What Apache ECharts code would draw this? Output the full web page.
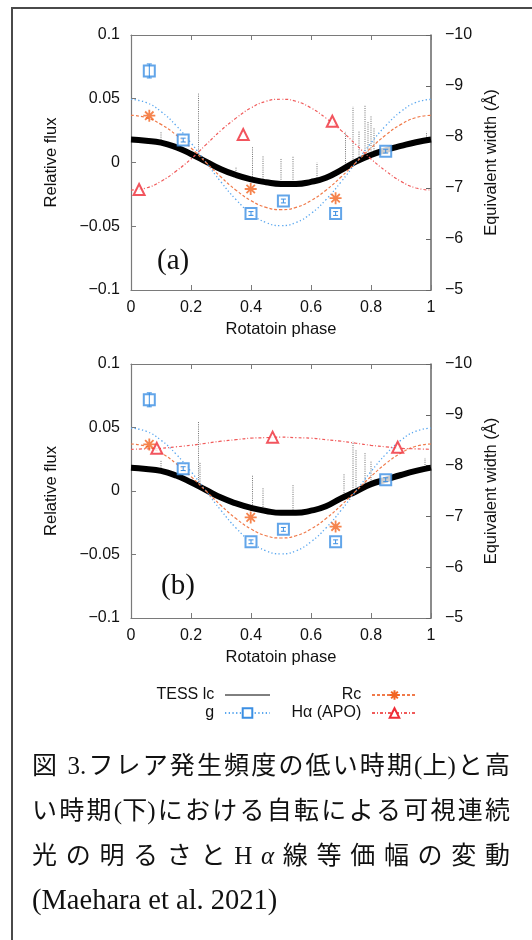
<!DOCTYPE html>
<html>
<head>
<meta charset="utf-8">
<script src="https://cdn.jsdelivr.net/npm/echarts@6/dist/echarts.min.js"></script>
<style>
  html, body { margin: 0; padding: 0; background: #fff; }
  #chart { width: 532px; height: 940px; }
</style>
</head>
<body>
<div id="chart"></div>
<script>
// Rotation phase grid used by the light curves and the sinusoidal fits
const fitPhase = [0, 0.05, 0.1, 0.15, 0.2, 0.25, 0.3, 0.35, 0.4, 0.45, 0.5,
                  0.55, 0.6, 0.65, 0.7, 0.75, 0.8, 0.85, 0.9, 0.95, 1];

// TESS light curve (relative flux), low-activity (a) and high-activity (b) epochs
const tessA = [0.0180, 0.0171, 0.0156, 0.0120, 0.0067, 0.0007, -0.0053, -0.0098, -0.0132, -0.0155, -0.0168,
               -0.0168, -0.0152, -0.0119, -0.0059, 0.0007, 0.0059, 0.0098, 0.0130, 0.0159, 0.0180];
const tessB = [0.0184, 0.0174, 0.0158, 0.0122, 0.0069, 0.0008, -0.0052, -0.0098, -0.0133, -0.0158, -0.0172,
               -0.0172, -0.0155, -0.0120, -0.0058, -0.0004, 0.0054, 0.0090, 0.0126, 0.0158, 0.0184];

// Flare spikes on top of the light curve: [phase, base flux, peak flux]
const flaresA = [[0.100, 0.016, 0.024], [0.225, 0.005, 0.054], [0.350, -0.010, -0.004], [0.405, -0.013, 0.012],
                 [0.440, -0.015, 0.005], [0.500, -0.017, 0.003], [0.540, -0.017, 0.005], [0.620, -0.014, 0.000],
                 [0.715, -0.004, 0.024], [0.740, -0.001, 0.044], [0.760, 0.001, 0.025], [0.780, 0.004, 0.045],
                 [0.790, 0.005, 0.032], [0.800, 0.006, 0.037], [0.810, 0.007, 0.027], [0.985, 0.017, 0.024]];
const flaresB = [[0.100, 0.016, 0.024], [0.225, 0.005, 0.055], [0.230, 0.004, 0.023], [0.405, -0.013, 0.012],
                 [0.440, -0.016, 0.003], [0.540, -0.017, 0.005], [0.710, -0.005, 0.014], [0.740, -0.001, 0.039],
                 [0.750, 0.000, 0.032], [0.780, 0.003, 0.030], [0.800, 0.005, 0.024], [0.980, 0.017, 0.026]];

// Sinusoidal fits
const gFit  = [0.0495, 0.0471, 0.0400, 0.0291, 0.0153, 0.0000, -0.0153, -0.0291, -0.0400, -0.0471, -0.0495,
               -0.0471, -0.0400, -0.0291, -0.0153, 0.0000, 0.0153, 0.0291, 0.0400, 0.0471, 0.0495];
const rcFit = [0.0370, 0.0352, 0.0299, 0.0217, 0.0114, 0.0000, -0.0114, -0.0217, -0.0299, -0.0352, -0.0370,
               -0.0352, -0.0299, -0.0217, -0.0114, 0.0000, 0.0114, 0.0217, 0.0299, 0.0352, 0.0370];
const haFitA = [-6.96, -7.00, -7.13, -7.33, -7.57, -7.85, -8.13, -8.37, -8.57, -8.70, -8.74,
                -8.70, -8.57, -8.37, -8.13, -7.85, -7.57, -7.33, -7.13, -7.00, -6.96];
const haFitB = [-8.32, -8.33, -8.34, -8.37, -8.40, -8.44, -8.48, -8.51, -8.54, -8.55, -8.56,
                -8.55, -8.54, -8.51, -8.48, -8.44, -8.40, -8.37, -8.34, -8.33, -8.32];

// Multicolour photometry (same in both panels)
const gPhase = [0.061, 0.174, 0.400, 0.508, 0.682, 0.849];
const gVal   = [0.0718, 0.0176, -0.0400, -0.0302, -0.0400, 0.0089];
const gErr   = [0.0055, 0.0015, 0.0015, 0.0015, 0.0015, 0.0015];
const rcPhase = [0.061, 0.399, 0.682];
const rcVal   = [0.0367, -0.0208, -0.0280];

// H-alpha equivalent width (APO spectra)
const haPhaseA = [0.027, 0.374, 0.671];
const haValA   = [-6.97, -8.05, -8.31];
const haPhaseB = [0.086, 0.472, 0.889];
const haValB   = [-8.34, -8.56, -8.36];

// Axis ticks
const xTicks = [0, 0.2, 0.4, 0.6, 0.8, 1];
const fluxTicks = [-0.1, -0.05, 0, 0.05, 0.1];
const ewTicks = [-10, -9, -8, -7, -6, -5];

const captionLines = [
  ['図', ' ', '3.', 'フ', 'レ', 'ア', '発', '生', '頻', '度', 'の', '低', 'い', '時', '期', '(上)', 'と', '高'],
  ['い', '時', '期', '(下)', 'に', 'お', 'け', 'る', '自', '転', 'に', 'よ', 'る', '可', '視', '連', '続'],
  ['光', 'の', '明', 'る', 'さ', 'と', 'H', 'α', '線', '等', '価', '幅', 'の', '変', '動']
];
const captionLast = '(Maehara et al. 2021)';

const C_G = '#3b8fe3', C_G_FIT = '#5aa7ef';
const C_RC = '#f26522', C_RC_FIT = '#f07a4a';
const C_HA = '#ef2b36', C_HA_FIT = '#f05a5a';
const AXIS_C = '#7a7a7a';
const FONT = '"Liberation Sans", Arial, sans-serif';
const ASTERISK = 'path://M0,10L20,10M10,0L10,20M3,3L17,17M17,3L3,17';

const zip = (xs, ys) => xs.map((x, i) => [x, ys[i]]);
const minus = s => String(s).replace('-', '\u2212');

function flareData(list) {
  const out = [];
  list.forEach(f => { out.push([f[0], f[1]], [f[0], f[2]], [f[0], '-']); });
  return out;
}

function errBars(xAxisIndex, yAxisIndex) {
  return {
    type: 'custom', xAxisIndex, yAxisIndex, z: 6, silent: true,
    data: gPhase.map((p, i) => [p, gVal[i], gErr[i]]),
    renderItem(params, api) {
      const x = api.value(0), y = api.value(1), e = api.value(2);
      const a = api.coord([x, y - e]), b = api.coord([x, y + e]);
      const w = 2.5, st = { stroke: C_G, lineWidth: 1 };
      return { type: 'group', children: [
        { type: 'line', shape: { x1: a[0], y1: a[1], x2: b[0], y2: b[1] }, style: st },
        { type: 'line', shape: { x1: a[0] - w, y1: a[1], x2: a[0] + w, y2: a[1] }, style: st },
        { type: 'line', shape: { x1: b[0] - w, y1: b[1], x2: b[0] + w, y2: b[1] }, style: st }
      ] };
    }
  };
}

function panelSeries(xi, yl, yr, tess, flares, haFit, haPhase, haVal) {
  return [
    { name: 'TESS lc', type: 'line', xAxisIndex: xi, yAxisIndex: yl, data: zip(fitPhase, tess),
      smooth: true, symbol: 'none', lineStyle: { color: '#000', width: 6 }, itemStyle: { color: '#000' }, z: 3 },
    { name: 'flares', type: 'line', xAxisIndex: xi, yAxisIndex: yl, data: flareData(flares),
      symbol: 'none', connectNulls: false, lineStyle: { color: '#333', width: 0.7, type: [1, 1.2] }, z: 2 },
    { name: 'g', type: 'line', xAxisIndex: xi, yAxisIndex: yl, data: zip(fitPhase, gFit), smooth: true,
      symbol: 'emptyRect', showSymbol: false, itemStyle: { color: C_G },
      lineStyle: { color: C_G_FIT, width: 1.3, type: [1.3, 2.4] }, z: 4 },
    { name: 'Rc', type: 'line', xAxisIndex: xi, yAxisIndex: yl, data: zip(fitPhase, rcFit), smooth: true,
      symbol: ASTERISK, showSymbol: false, itemStyle: { color: C_RC, borderColor: C_RC, borderWidth: 1.6 },
      lineStyle: { color: C_RC_FIT, width: 1.2, type: [3, 2] }, z: 4 },
    { name: 'H\u03b1 (APO)', type: 'line', xAxisIndex: xi, yAxisIndex: yr, data: zip(fitPhase, haFit), smooth: true,
      symbol: 'emptyTriangle', showSymbol: false, itemStyle: { color: C_HA },
      lineStyle: { color: C_HA_FIT, width: 1.2, type: [3, 2, 1, 2] }, z: 4 },
    { name: 'g', type: 'scatter', xAxisIndex: xi, yAxisIndex: yl, data: zip(gPhase, gVal),
      symbol: 'emptyRect', symbolSize: 11, itemStyle: { color: C_G, borderWidth: 1.6 }, z: 5 },
    errBars(xi, yl),
    { name: 'Rc', type: 'scatter', xAxisIndex: xi, yAxisIndex: yl, data: zip(rcPhase, rcVal),
      symbol: ASTERISK, symbolSize: 12, itemStyle: { color: C_RC, borderColor: C_RC, borderWidth: 1.8 }, z: 5 },
    { name: 'H\u03b1 (APO)', type: 'scatter', xAxisIndex: xi, yAxisIndex: yr, data: zip(haPhase, haVal),
      symbol: 'emptyTriangle', symbolSize: 11, itemStyle: { color: C_HA, borderWidth: 1.8 }, z: 5 }
  ];
}

function xAxis(gridIndex, top) {
  return {
    type: 'value', gridIndex, position: top ? 'top' : 'bottom',
    min: xTicks[0], max: xTicks[xTicks.length - 1], interval: 0.2,
    name: top ? '' : 'Rotatoin phase', nameLocation: 'middle', nameGap: 31,
    nameTextStyle: { fontSize: 16.5, color: '#111', fontFamily: FONT },
    axisLine: { show: true, onZero: false, lineStyle: { color: AXIS_C, width: 1.2 } },
    axisTick: { show: true, inside: true, length: 5, lineStyle: { color: AXIS_C } },
    axisLabel: { show: !top, margin: 10, fontSize: 16, color: '#111', fontFamily: FONT },
    splitLine: { show: false }
  };
}

function fluxAxis(gridIndex) {
  return {
    type: 'value', gridIndex, position: 'left',
    min: fluxTicks[0], max: fluxTicks[fluxTicks.length - 1], interval: 0.05,
    name: 'Relative flux', nameLocation: 'middle', nameGap: 71,
    nameTextStyle: { fontSize: 16.5, color: '#111', fontFamily: FONT },
    axisLine: { show: true, onZero: false, lineStyle: { color: AXIS_C, width: 1.2 } },
    axisTick: { show: true, inside: true, length: 5, lineStyle: { color: AXIS_C } },
    axisLabel: { margin: 11, fontSize: 16, color: '#111', fontFamily: FONT,
      formatter: v => minus(+v.toFixed(2)) },
    splitLine: { show: false }
  };
}

function ewAxis(gridIndex) {
  return {
    type: 'value', gridIndex, position: 'right', inverse: true,
    min: ewTicks[0], max: ewTicks[ewTicks.length - 1], interval: 1,
    name: 'Equivalent width (\u00c5)', nameLocation: 'middle', nameGap: 51,
    nameTextStyle: { fontSize: 16.5, color: '#111', fontFamily: FONT },
    axisLine: { show: true, onZero: false, lineStyle: { color: '#666', width: 1.5 } },
    axisTick: { show: true, inside: true, length: 5, lineStyle: { color: '#666' } },
    axisLabel: { margin: 14, fontSize: 16, color: '#111', fontFamily: FONT, formatter: v => minus(v) },
    splitLine: { show: false }
  };
}

// Justified caption layout
const measureCtx = document.createElement('canvas').getContext('2d');
const CAP_FONT_FAMILY = '"Liberation Serif", "Noto Sans CJK JP", serif';
const CAP_SIZE = 25;
function captionElements() {
  const els = [];
  const left = 32, right = 510;
  const ys = [767, 812, 857];
  captionLines.forEach((tokens, li) => {
    measureCtx.font = CAP_SIZE + 'px ' + CAP_FONT_FAMILY;
    const widths = tokens.map(t => measureCtx.measureText(t).width);
    const total = widths.reduce((a, b) => a + b, 0);
    const gap = (right - left - total) / (tokens.length - 1);
    let x = left;
    tokens.forEach((t, i) => {
      els.push({ type: 'text', x, y: ys[li], silent: true,
        style: { text: t, fontSize: CAP_SIZE, fontFamily: CAP_FONT_FAMILY, fill: '#111',
                 fontStyle: t === 'α' ? 'italic' : 'normal', verticalAlign: 'middle', align: 'left' } });
      x += widths[i] + gap;
    });
  });
  els.push({ type: 'text', x: left, y: 902, silent: true,
    style: { text: captionLast, fontSize: 28.5, fontFamily: CAP_FONT_FAMILY, fill: '#111',
             verticalAlign: 'middle', align: 'left' } });
  return els;
}

const chart = echarts.init(document.getElementById('chart'), null, { renderer: 'canvas' });

const legendCommon = {
  orient: 'vertical', align: 'right', top: 686, padding: 0, itemWidth: 45, itemHeight: 12, itemGap: 0,
  selectedMode: false, textStyle: { fontSize: 16, lineHeight: 18, color: '#111', fontFamily: FONT },
  formatter: n => n + ' \u200a'
};

chart.setOption({
  animation: false,
  backgroundColor: '#fff',
  textStyle: { fontFamily: FONT },
  grid: [
    { left: 131, top: 35, width: 300, height: 255 },
    { left: 131, top: 364, width: 300, height: 254 }
  ],
  xAxis: [xAxis(0, false), xAxis(1, false), xAxis(0, true), xAxis(1, true)],
  yAxis: [fluxAxis(0), ewAxis(0), fluxAxis(1), ewAxis(1)],
  legend: [
    Object.assign({}, legendCommon, { right: 261, data: [
      { name: 'TESS lc', itemStyle: { opacity: 0 }, lineStyle: { width: 1, color: '#000' } },
      { name: 'g' }
    ] }),
    Object.assign({}, legendCommon, { right: 114, data: [{ name: 'Rc' }, { name: 'H\u03b1 (APO)' }] })
  ],
  series: [
    ...panelSeries(0, 0, 1, tessA, flaresA, haFitA, haPhaseA, haValA),
    ...panelSeries(1, 2, 3, tessB, flaresB, haFitB, haPhaseB, haValB)
  ],
  graphic: [
    { type: 'polyline', silent: true, shape: { points: [[12, 940], [12, 8], [532, 8]] },
      style: { stroke: '#4a4a4a', lineWidth: 2, fill: null } },
    { type: 'text', x: 157, y: 261, silent: true,
      style: { text: '(a)', fontSize: 29, fontFamily: '"Liberation Serif", serif', fill: '#111', verticalAlign: 'middle' } },
    { type: 'text', x: 161, y: 586, silent: true,
      style: { text: '(b)', fontSize: 29, fontFamily: '"Liberation Serif", serif', fill: '#111', verticalAlign: 'middle' } },
    ...captionElements()
  ]
});
</script>
</body>
</html>
